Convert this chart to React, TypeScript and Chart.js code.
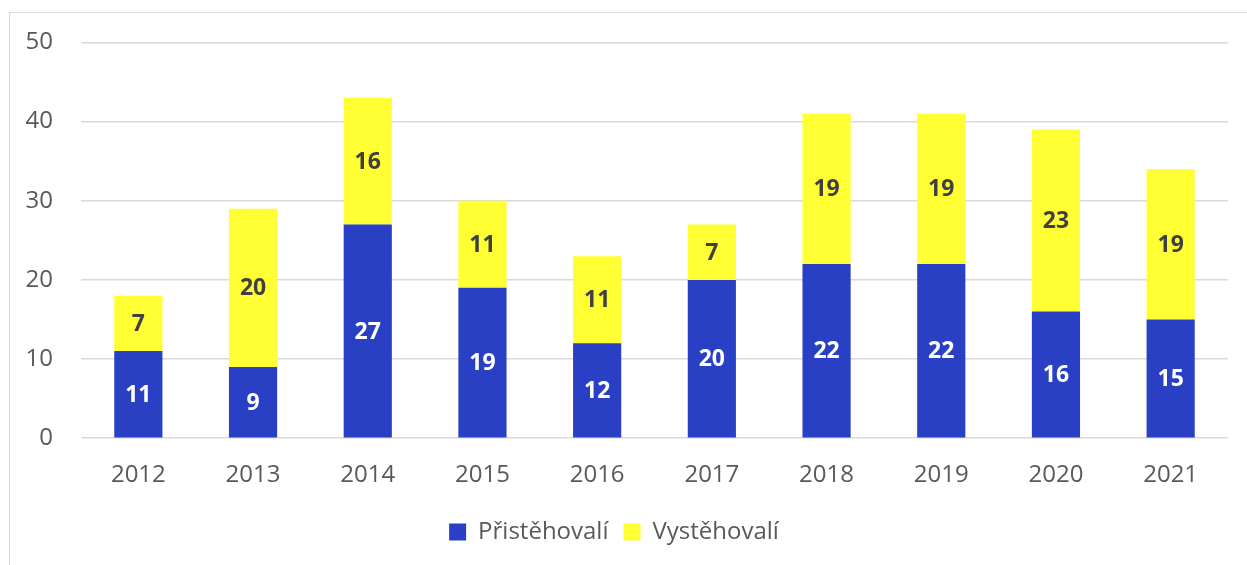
import React, { useEffect, useRef } from "react";
import { Chart, registerables } from "chart.js";

Chart.register(...registerables);

const years = ["2012", "2013", "2014", "2015", "2016", "2017", "2018", "2019", "2020", "2021"];
const pristehovali = [11, 9, 27, 19, 12, 20, 22, 22, 16, 15];
const vystehovali = [7, 20, 16, 11, 11, 7, 19, 19, 23, 19];
const seriesNames = ["Přistěhovalí", "Vystěhovalí"];
const yTicks = { min: 0, max: 50, step: 10 };

const FONT = "'Open Sans', 'Noto Sans', sans-serif";

const barLabels = {
  id: "barLabels",
  afterDatasetsDraw(chart: any) {
    const ctx = chart.ctx;
    ctx.save();
    ctx.font = `bold 23px ${FONT}`;
    ctx.textAlign = "center";
    ctx.textBaseline = "middle";
    chart.data.datasets.forEach((ds: any, di: number) => {
      const meta = chart.getDatasetMeta(di);
      meta.data.forEach((bar: any, i: number) => {
        const v = ds.data[i];
        const y = (bar.y + bar.base) / 2;
        ctx.fillStyle = di === 0 ? "#ffffff" : "#404040";
        ctx.fillText(String(v), bar.x, y + 1);
      });
    });
    ctx.restore();
  },
};

export default function App() {
  const ref = useRef<HTMLCanvasElement>(null);
  useEffect(() => {
    const chart = new Chart(ref.current!, {
      type: "bar",
      data: {
        labels: years,
        datasets: [
          { label: seriesNames[0], data: pristehovali, backgroundColor: "#2940C4", barPercentage: 0.84, categoryPercentage: 0.5 },
          { label: seriesNames[1], data: vystehovali, backgroundColor: "#FFFF33", barPercentage: 0.84, categoryPercentage: 0.5 },
        ],
      },
      options: {
        animation: false,
        responsive: false,
        maintainAspectRatio: false,
        layout: { padding: { top: 35, right: 19, bottom: 11, left: 0 } },
        plugins: {
          tooltip: { enabled: false },
          legend: {
            position: "bottom",
            labels: {
              font: { family: FONT, size: 24 },
              color: "#595959",
              boxWidth: 17,
              boxHeight: 17,
              padding: 15,
            },
          },
        },
        scales: {
          x: {
            stacked: true,
            grid: { display: false },
            border: { display: false },
            ticks: { font: { family: FONT, size: 24 }, color: "#595959", padding: 15 },
          },
          y: {
            stacked: true,
            min: yTicks.min,
            max: yTicks.max,
            afterFit: (s: any) => { s.width = 81; },
            grid: { color: "#d9d9d9", lineWidth: 1.5, drawTicks: false },
            border: { display: false },
            ticks: { stepSize: yTicks.step, font: { family: FONT, size: 24 }, color: "#595959", padding: 28 },
          },
        },
      },
      plugins: [barLabels],
    });
    return () => chart.destroy();
  }, []);
  return (
    <div style={{ position: "fixed", left: 0, top: 0, width: 1247, height: 565, background: "#fff" }}>
      <canvas ref={ref} width={1247} height={565} style={{ position: "absolute", left: 0, top: 0 }} />
      <div style={{ position: "absolute", left: 9, top: 12, width: 1400, height: 700, border: "1.5px solid #d9d9d9", pointerEvents: "none" }} />
    </div>
  );
}
